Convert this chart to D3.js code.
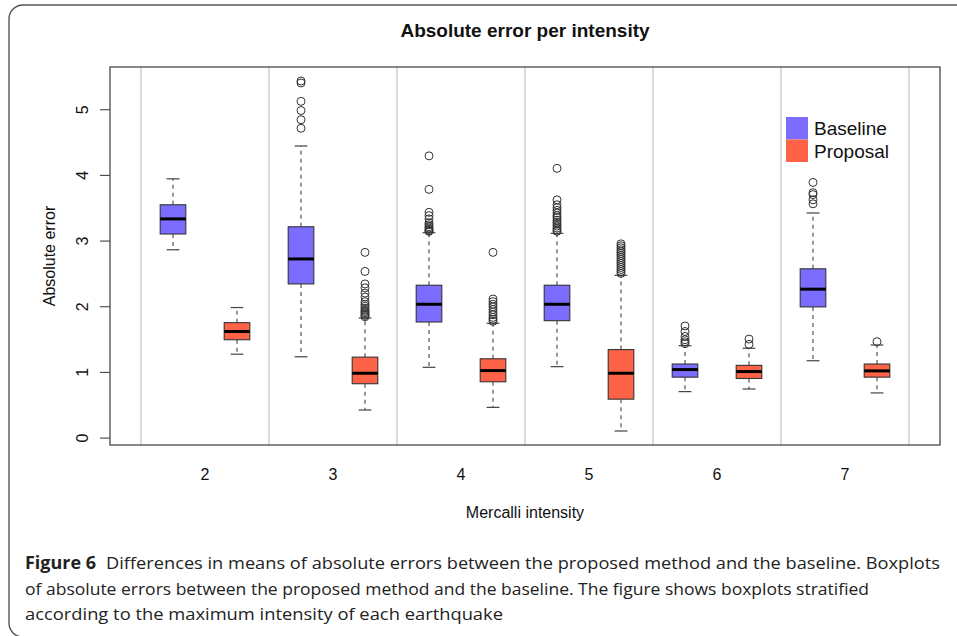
<!DOCTYPE html>
<html><head><meta charset="utf-8">
<script src="https://cdn.jsdelivr.net/npm/d3@7"></script>
<style>html,body{margin:0;padding:0;background:#fff;}svg{display:block;}</style>
</head><body>
<svg id="chart" width="957" height="636"></svg>
<script>
// ---- data ----
const categories = ["2", "3", "4", "5", "6", "7"];
const seriesNames = ["Baseline", "Proposal"];
const yTicks = [0, 1, 2, 3, 4, 5];
// [lower whisker, Q1, median, Q3, upper whisker]
const baselineStats = [
  [2.86, 3.10, 3.33, 3.545, 3.94],
  [1.23, 2.34, 2.72, 3.21, 4.44],
  [1.07, 1.76, 2.03, 2.32, 3.12],
  [1.08, 1.78, 2.03, 2.32, 3.11],
  [0.70, 0.92, 1.036, 1.12, 1.40],
  [1.17, 1.99, 2.26, 2.57, 3.42]
];
const proposalStats = [
  [1.27, 1.49, 1.615, 1.75, 1.98],
  [0.42, 0.82, 0.98, 1.225, 1.82],
  [0.46, 0.85, 1.02, 1.20, 1.74],
  [0.10, 0.585, 0.98, 1.34, 2.47],
  [0.74, 0.90, 1.005, 1.10, 1.36],
  [0.68, 0.92, 1.016, 1.12, 1.41]
];
const baselineOutliers = [
  [],
  [5.43, 5.40, 5.12, 4.98, 4.84, 4.71],
  [4.29, 3.78, 3.43, 3.38, 3.33, 3.27, 3.24, 3.21, 3.19, 3.17, 3.15, 3.14],
  [4.10, 3.62, 3.545, 3.50, 3.46, 3.42, 3.38, 3.35, 3.31, 3.28, 3.25, 3.22, 3.19, 3.16, 3.14],
  [1.70, 1.615, 1.54, 1.49, 1.46, 1.43],
  [3.885, 3.73, 3.70, 3.62, 3.56]
];
const proposalOutliers = [
  [],
  [2.82, 2.53, 2.34, 2.28, 2.20, 2.14, 2.07, 2.03, 2.00, 1.97, 1.94, 1.92, 1.90, 1.88, 1.86, 1.84],
  [2.82, 2.11, 2.07, 2.03, 1.99, 1.95, 1.91, 1.87, 1.83, 1.80, 1.77],
  [2.95, 2.92, 2.89, 2.86, 2.83, 2.80, 2.77, 2.74, 2.71, 2.68, 2.65, 2.62, 2.59, 2.56, 2.53, 2.50],
  [1.50, 1.42],
  [1.46]
];
const titleText = "Absolute error per intensity";
const xTitle = "Mercalli intensity";
const yTitle = "Absolute error";
const captionLabel = "Figure 6";
const captionLines = [
  "Differences in means of absolute errors between the proposed method and the baseline. Boxplots",
  "of absolute errors between the proposed method and the baseline. The figure shows boxplots stratified",
  "according to the maximum intensity of each earthquake"
];

// ---- layout ----
const colors = {Baseline: "#7b6dff", Proposal: "#ff6347"};
const plot = {left: 110, right: 940, top: 67, bottom: 445};
const svg = d3.select("#chart");
const font = "'Liberation Sans', Arial, Helvetica, sans-serif";

// outer frame
svg.append("rect").attr("x", 9).attr("y", 5).attr("width", 1000).attr("height", 632)
  .attr("rx", 14).attr("fill", "none").attr("stroke", "#555").attr("stroke-width", 1.4);

const x = d3.scaleBand().domain(categories).range([141, 909]).padding(0);
const sub = d3.scalePoint().domain(seriesNames).range([0.25, 0.75]);
const y = d3.scaleLinear().domain([-0.113, 5.643]).range([plot.bottom, plot.top]);
const bw = x.bandwidth();
const boxW = bw * 0.2;

// grid lines at group boundaries
const bounds = categories.map(c => x(c)).concat([x(categories[categories.length - 1]) + bw]);
svg.append("g").selectAll("line").data(bounds).join("line")
  .attr("x1", d => d).attr("x2", d => d).attr("y1", plot.top).attr("y2", plot.bottom)
  .attr("stroke", "#cfcfcf").attr("stroke-width", 1.5);

// boxes
const series = [
  {name: "Baseline", stats: baselineStats, out: baselineOutliers},
  {name: "Proposal", stats: proposalStats, out: proposalOutliers}
];
const gBox = svg.append("g");
series.forEach(s => {
  categories.forEach((c, i) => {
    const st = s.stats[i];
    const cx = x(c) + bw * sub(s.name);
    const g = gBox.append("g");
    // whiskers
    g.append("line").attr("x1", cx).attr("x2", cx).attr("y1", y(st[3])).attr("y2", y(st[4]))
      .attr("stroke", "#444").attr("stroke-width", 1.1).attr("stroke-dasharray", "4,4");
    g.append("line").attr("x1", cx).attr("x2", cx).attr("y1", y(st[1])).attr("y2", y(st[0]))
      .attr("stroke", "#444").attr("stroke-width", 1.1).attr("stroke-dasharray", "4,4");
    [st[0], st[4]].forEach(v => {
      g.append("line").attr("x1", cx - boxW / 4).attr("x2", cx + boxW / 4)
        .attr("y1", y(v)).attr("y2", y(v)).attr("stroke", "#444").attr("stroke-width", 1.2);
    });
    g.append("rect").attr("x", cx - boxW / 2).attr("width", boxW)
      .attr("y", y(st[3])).attr("height", y(st[1]) - y(st[3]))
      .attr("fill", colors[s.name]).attr("stroke", "#333").attr("stroke-width", 1.1);
    g.append("line").attr("x1", cx - boxW / 2).attr("x2", cx + boxW / 2)
      .attr("y1", y(st[2])).attr("y2", y(st[2])).attr("stroke", "#000").attr("stroke-width", 3);
    g.selectAll("circle").data(s.out[i]).join("circle")
      .attr("cx", cx).attr("cy", d => y(d)).attr("r", 4)
      .attr("fill", "none").attr("stroke", "#333").attr("stroke-width", 1);
  });
});

// plot box
svg.append("rect").attr("x", plot.left).attr("y", plot.top)
  .attr("width", plot.right - plot.left).attr("height", plot.bottom - plot.top)
  .attr("fill", "none").attr("stroke", "#555").attr("stroke-width", 1.4);

// y axis
const yAxis = svg.append("g").attr("transform", `translate(${plot.left},0)`)
  .call(d3.axisLeft(y).tickValues(yTicks).tickFormat(d3.format("d")).tickSize(10));
yAxis.select(".domain").remove();
yAxis.selectAll(".tick line").attr("stroke", "#444").attr("stroke-width", 1.1);
yAxis.selectAll(".tick text").attr("x", 0).attr("y", 0).attr("dy", 0)
  .attr("text-anchor", "middle").attr("transform", "translate(-22,0) rotate(-90)")
  .attr("font-family", font).attr("font-size", 16).attr("fill", "#111");

// x axis
const xAxis = svg.append("g").attr("transform", `translate(0,${plot.bottom})`)
  .call(d3.axisBottom(x).tickSize(0));
xAxis.select(".domain").remove();
xAxis.selectAll(".tick text").attr("y", 35).attr("dy", 0)
  .attr("font-family", font).attr("font-size", 16).attr("fill", "#111");

// titles
svg.append("text").attr("x", (plot.left + plot.right) / 2).attr("y", 37)
  .attr("text-anchor", "middle").attr("font-family", font).attr("font-weight", "bold")
  .attr("font-size", 19).attr("fill", "#111").text(titleText);
svg.append("text").attr("x", (plot.left + plot.right) / 2).attr("y", 518)
  .attr("text-anchor", "middle").attr("font-family", font)
  .attr("font-size", 16).attr("fill", "#111").text(xTitle);
svg.append("text").attr("transform", `translate(55,${(plot.top + plot.bottom) / 2}) rotate(-90)`)
  .attr("text-anchor", "middle").attr("font-family", font)
  .attr("font-size", 16).attr("fill", "#111").text(yTitle);

// legend
const leg = svg.append("g").attr("transform", "translate(786,117)");
seriesNames.forEach((n, i) => {
  leg.append("rect").attr("x", 0).attr("y", i * 22.5).attr("width", 22).attr("height", 22.5)
    .attr("fill", colors[n]);
  leg.append("text").attr("x", 28).attr("y", i * 22.5 + 18).attr("font-family", font)
    .attr("font-size", 19).attr("fill", "#111").text(n);
});

// caption
const capFont = "'Open Sans', 'Noto Sans', sans-serif";
svg.append("text").attr("x", 25).attr("y", 569).attr("font-family", capFont)
  .attr("font-weight", "bold").attr("font-size", 17).attr("fill", "#222")
  .attr("textLength", 71).attr("lengthAdjust", "spacingAndGlyphs").text(captionLabel);
const capLens = [834, 844, 478];
const capX = [106, 25, 25];
captionLines.forEach((t, i) => {
  svg.append("text").attr("x", capX[i]).attr("y", 569 + i * 25.5).attr("font-family", capFont)
    .attr("font-size", 17).attr("fill", "#222")
    .attr("textLength", capLens[i]).attr("lengthAdjust", "spacingAndGlyphs").text(t);
});
</script>
</body></html>
